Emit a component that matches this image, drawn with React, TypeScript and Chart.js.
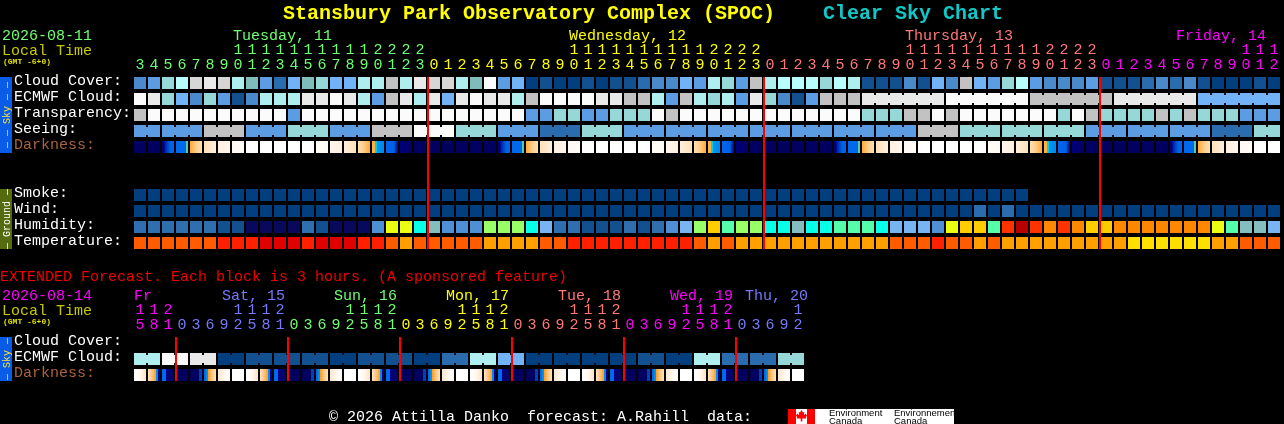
import React, { useEffect, useRef } from "react";
import { Chart, registerables } from "chart.js";

Chart.register(...registerables);

// ---------- values ----------
const title = "Stansbury Park Observatory Complex (SPOC)";
const subtitle = "Clear Sky Chart";

const mainRowLabels = ["Cloud Cover:", "ECMWF Cloud:", "Transparency:", "Seeing:", "Darkness:", "", "", "Smoke:", "Wind:", "Humidity:", "Temperature:"];
const extendedRowLabels = ["Cloud Cover:", "ECMWF Cloud:", "Darkness:"];

const mainHours = [3,4,5,6,7,8,9,10,11,12,13,14,15,16,17,18,19,20,21,22,23,
  0,1,2,3,4,5,6,7,8,9,10,11,12,13,14,15,16,17,18,19,20,21,22,23,
  0,1,2,3,4,5,6,7,8,9,10,11,12,13,14,15,16,17,18,19,20,21,22,23,
  0,1,2,3,4,5,6,7,8,9,10,11,12];
const mainDaySpans = [21, 24, 24, 13];
const extendedHours = [15,18,21,
  0,3,6,9,12,15,18,21, 0,3,6,9,12,15,18,21, 0,3,6,9,12,15,18,21, 0,3,6,9,12,15,18,21, 0,3,6,9,12,15,18,21,
  0,3,6,9,12];
const extendedDaySpans = [3, 8, 8, 8, 8, 8, 5];
const mainMidnights = [21, 45, 69];
const extendedMidnights = [3, 11, 19, 27, 35, 43];

// Sky codes: 0 darkest/clear ... 13 white
const cloudCover = [3,4,7,9,11,12,11,8,6,4,2,5,6,7,5,5,8,8,10,8,12,
  11,11,8,6,13,4,5,0,1,0,0,1,0,1,1,2,3,3,5,4,8,7,4,10,8,9,9,9,7,9,
  8,1,1,1,3,1,5,3,10,5,4,7,9,4,3,3,3,4,1,1,1,2,3,2,3,1,0,0,0,1,0];
const ecmwfCloud = [13,12,7,5,3,7,4,1,3,8,8,8,12,12,13,12,8,4,10,12,8,
  12,5,12,13,12,12,8,10,13,13,13,13,12,12,10,10,8,4,10,8,7,8,4,12,7,3,1,4,10,10,
  10,12,12,12,12,12,12,13,13,13,13,13,13,10,10,10,10,10,10,12,12,12,12,12,12,5,5,5,5,5,5];
const ecmwfBlocks = [1,1,1,1,1,1,1,1,1,1,1,1,1,1,1,1,1,1,1,1,1,1,1,1,1,1,1,1,1,1,1,1,1,1,1,1,1,1,1,1,1,1,1,1,1,1,1,1,1,1,1,1,6,6,6,6,6];
const transparency = [10,13,13,13,13,13,13,13,13,13,13,4,13,13,13,13,13,13,13,13,13,
  13,13,13,13,13,13,13,4,4,7,7,4,4,7,7,7,13,10,13,13,13,13,13,13,13,13,13,13,13,13,
  13,7,7,7,10,10,13,10,13,13,13,13,13,13,13,7,13,10,7,7,7,7,10,7,10,7,7,7,4,4,4];
const seeing = [4,4,4,4,4,10,10,10,4,4,4,7,7,7,4,4,4,10,10,10,13,
  13,13,7,7,7,4,4,4,2,2,2,7,7,7,4,4,4,4,4,4,4,4,4,4,4,4,4,4,4,4,
  4,4,4,4,4,10,10,10,7,7,7,7,7,7,7,7,7,4,4,4,4,4,4,4,4,4,2,2,2,7,7];
const seeingBlocks = [2,3,3,3,3,3,3,3,3,3,3,3,3,3,3,3,3,3,3,3,3,3,3,3,3,3,3,2];
const darkness = [0,0,1,2,3,4,5,6,7,7,7,7,7,8,9,10,11,12,13,14,0,
  0,0,0,0,0,1,2,3,4,5,6,7,7,7,7,7,8,9,10,11,12,13,14,0,0,0,0,0,0,1,
  2,3,4,5,6,7,7,7,7,7,8,9,10,11,12,13,14,0,0,0,0,0,0,1,2,3,4,5,6,7,7];
const smoke = [0,0,0,0,0,0,0,0,0,0,0,0,0,0,0,0,0,0,0,0,0,0,0,0,0,0,0,0,0,0,0,0,0,0,0,0,0,0,0,0,0,0,0,0,0,0,0,0,0,0,0,0,0,0,0,0,0,0,0,0,0,0,0,0];
const wind = [0,0,0,0,0,0,0,0,0,0,0,0,0,0,0,0,0,0,0,0,0,0,0,0,0,0,0,0,0,0,0,0,0,0,0,0,0,0,0,0,0,0,0,0,0,0,0,0,0,0,0,0,0,0,0,0,0,0,0,0,2,0,2,0,0,0,0,0,0,0,0,0,0,0,0,0,0,0,0,0,0,0];
const humidity = [2,2,2,2,2,2,1,1,0,0,0,0,2,1,0,0,0,3,9,9,8,
  5,3,3,3,6,6,6,8,4,2,2,1,1,1,2,1,2,3,4,6,10,7,6,6,8,8,5,8,8,7,
  7,7,8,4,4,4,3,9,10,10,7,12,13,12,11,12,11,10,10,11,11,11,11,11,11,11,9,7,5,5,4];
const temperature = [2,2,2,2,2,2,1,1,1,0,0,0,1,0,0,0,1,1,2,3,2,
  2,2,2,2,3,3,3,3,2,2,1,1,1,1,1,1,1,1,1,2,3,2,3,3,3,3,3,3,3,3,
  3,3,3,2,2,2,1,2,2,3,2,3,3,3,3,3,3,3,3,3,4,4,4,4,4,4,3,3,2,2,2];

const extendedEcmwf = [8,8,13,13,12,12,0,0,1,1,1,1,1,1,0,0,1,1,1,1,0,0,2,2,8,8,5,5,0,0,0,0,0,0,0,0,1,1,0,0,8,8,2,2,2,2,7,7];
const extendedEcmwfBlocks = [2,2,2,2,2,2,2,2,2,2,2,2,2,2,2,2,2,2,2,2,2,2,2,2];
const extendedDarkness = [15,16,17,0,18,19,20,7,15,16,17,0,18,19,20,7,15,16,17,0,18,19,20,7,15,16,17,0,18,19,20,7,15,16,17,0,18,19,20,7,15,16,17,0,18,19,20,7];

const footer = "\u00A9 2026 Attilla Danko  forecast: A.Rahill  data:";
const extendedNote = "EXTENDED Forecast. Each block is 3 hours. (A sponsored feature)";

// ---------- palettes and styling ----------
const SKY = ["#033F7F","#13508F","#2B6CAE","#4A8ACB","#5C9CE2","#72B2F6","#7FBDBD","#96D8D8","#AEEEEE","#B8FCFC","#C2C2C2","#D6D6D6","#E9E9E9","#FBFBFB"];
const HUMIDITY = ["#08085C","#13508F","#2F6FAF","#4F8FD5","#78B4F2","#85BEBE","#99FF66","#55FFAA","#08FFE8","#EAFF11","#FFCC00","#FF8800","#FF3300","#B80000"];
const TEMPERATURE = ["#E00000","#FF2000","#FF5C00","#FFA000","#FFE000"];
type Stop = [number, string];
const DARK: Stop[][] = [
  [[0,"#000060"],[1,"#000060"]],
  [[0,"#000070"],[0.17,"#000090"],[0.33,"#0030B0"],[0.5,"#0048C8"],[0.67,"#0060E4"],[1,"#0068EE"]],
  [[0,"#0068EE"],[0.83,"#0068EE"],[0.84,"#50D0A0"],[1,"#50D0A0"]],
  [[0,"#FFA838"],[0.5,"#FFCC88"],[1,"#FFE0B4"]],
  [[0,"#FFE2BC"],[1,"#FFEEDA"]],
  [[0,"#FFF0DE"],[1,"#FFF6EC"]],
  [[0,"#FFF8F0"],[1,"#FFFCF8"]],
  [[0,"#FFFFFF"],[1,"#FFFFFF"]],
  [[0,"#FFFDFA"],[1,"#FFF8F0"]],
  [[0,"#FFF6EC"],[1,"#FFF0DE"]],
  [[0,"#FFEEDA"],[1,"#FFE2BC"]],
  [[0,"#FFE0B4"],[0.5,"#FFCC88"],[1,"#FFA838"]],
  [[0,"#FFB040"],[0.24,"#FFB040"],[0.25,"#00D0E8"],[0.42,"#00D0E8"],[0.43,"#0090F0"],[1,"#0088EE"]],
  [[0,"#0068EE"],[0.66,"#0060E4"],[0.83,"#0030B0"],[1,"#000090"]],
  [[0,"#000080"],[1,"#000060"]],
  [[0,"#FFFFFF"],[0.5,"#FFF8F0"],[1,"#FFE4C4"]],
  [[0,"#FFE4C4"],[0.4,"#FFC070"],[0.66,"#FF9920"],[0.67,"#0088EE"],[0.83,"#0088EE"],[0.84,"#000090"],[1,"#000070"]],
  [[0,"#0068EE"],[0.33,"#0068EE"],[0.34,"#000080"],[1,"#000060"]],
  [[0,"#000060"],[0.74,"#000060"],[0.75,"#0040C0"],[1,"#0040C0"]],
  [[0,"#0068EE"],[0.16,"#0068EE"],[0.17,"#0090F0"],[0.33,"#0090F0"],[0.34,"#FF9920"],[0.6,"#FFC070"],[1,"#FFE4C4"]],
  [[0,"#FFE4C4"],[0.5,"#FFF8F0"],[1,"#FFFFFF"]],
];
const HEADER_COLORS = ["#70FF70", "#FFFF00", "#FF7878", "#FF00FF"];
const EXT_COLORS = ["#FF00FF", "#7878FF", "#70FF70", "#FFFF00", "#FF7878", "#FF00FF", "#7878FF"];
const MONO = '"Liberation Mono", monospace';
const F15 = `15px ${MONO}`;
const WIDTH = 1284;
const CELL = 14;            // px per column
const ROW = 16;             // px per row
const ROW_SPAN = 12 / ROW;  // a block's height in row units
const LABEL_LIFT = 1.5 / ROW;
const PLOT_LEFT = 133;      // x of value 0
const LINE_SHIFT = 1 / CELL;

type Txt = { t: string; x: number; y: number; c: string; f?: string };

const topTexts: Txt[] = [
  { t: title, x: 283, y: 19, c: "#FFFF00", f: `bold 20px ${MONO}` },
  { t: subtitle, x: 823, y: 19, c: "#10C8C8", f: `bold 20px ${MONO}` },
  { t: "2026-08-11", x: 2, y: 40, c: "#70FF70" },
  { t: "Local Time", x: 2, y: 55, c: "#C8C800" },
  { t: "(GMT -6+0)", x: 3, y: 64, c: "#E0E000", f: `bold 8px ${MONO}` },
  { t: "Tuesday, 11", x: 233, y: 40, c: HEADER_COLORS[0] },
  { t: "Wednesday, 12", x: 569, y: 40, c: HEADER_COLORS[1] },
  { t: "Thursday, 13", x: 905, y: 40, c: HEADER_COLORS[2] },
  { t: "Friday, 14", x: 1176, y: 40, c: HEADER_COLORS[3] },
];
const bottomTexts: Txt[] = [
  { t: extendedNote, x: 0, y: 281, c: "#F00000" },
  { t: "2026-08-14", x: 2, y: 300, c: "#FF00FF" },
  { t: "Local Time", x: 2, y: 315, c: "#C8C800" },
  { t: "(GMT -6+0)", x: 3, y: 324, c: "#E0E000", f: `bold 8px ${MONO}` },
  { t: "Fr", x: 134, y: 300, c: EXT_COLORS[0] },
  { t: "Sat, 15", x: 222, y: 300, c: EXT_COLORS[1] },
  { t: "Sun, 16", x: 334, y: 300, c: EXT_COLORS[2] },
  { t: "Mon, 17", x: 446, y: 300, c: EXT_COLORS[3] },
  { t: "Tue, 18", x: 558, y: 300, c: EXT_COLORS[4] },
  { t: "Wed, 19", x: 670, y: 300, c: EXT_COLORS[5] },
  { t: "Thu, 20", x: 745, y: 300, c: EXT_COLORS[6] },
  { t: footer, x: 329, y: 421, c: "#FFFFFF" },
];
const topTabs = [
  { label: "\u2014 \u2014 Sky \u2014 \u2014", top: 77, bottom: 153, bg: "#0A5CE8", fg: "#FFE830" },
  { label: "\u2014 Ground \u2014", top: 189, bottom: 249, bg: "#556B0F", fg: "#FFFFFF" },
];
const bottomTabs = [{ label: "\u2014 Sky \u2014", top: 337, bottom: 381, bg: "#0A5CE8", fg: "#FFE830" }];

// ---------- helpers ----------
function dayOf(index: number, spans: number[]) {
  let n = 0;
  for (let d = 0; d < spans.length; d++) {
    n += spans[d];
    if (index < n) return d;
  }
  return spans.length - 1;
}

const cells = (row: number, values: number[]) =>
  values.map((_, i) => ({ x: i + 0.5, y: [row, row + ROW_SPAN] }));

function blockRow(row: number, values: number[], palette: string[]) {
  return {
    type: "bar",
    data: cells(row, values),
    backgroundColor: values.map((v) => palette[v]),
    maxBarThickness: 12,
  };
}

function darkRow(row: number, values: number[]) {
  return {
    type: "bar",
    data: cells(row, values),
    maxBarThickness: 12,
    backgroundColor: (ctx: any) => {
      const stops = DARK[values[ctx.dataIndex]];
      const sx = ctx.chart.scales.x;
      if (!sx || !stops) return "#000";
      const c = sx.getPixelForValue(ctx.dataIndex + 0.5);
      if (!Number.isFinite(c)) return "#000";
      const g = ctx.chart.ctx.createLinearGradient(c - 6, 0, c + 6, 0);
      stops.forEach(([o, col]: Stop) => g.addColorStop(o, col));
      return g;
    },
  };
}

// small bridges that join the blocks of one forecast period
function bridges(row: number, values: number[], blocks: number[], palette: string[]) {
  const data: any[] = [];
  const colors: string[] = [];
  let start = 0;
  blocks.forEach((n) => {
    for (let k = 0; k < n - 1; k++) {
      const i = start + k;
      data.push({ x: i + 1, y: [row + 2 / ROW, row + 10 / ROW] });
      colors.push(palette[values[i]]);
    }
    start += n;
  });
  return { type: "bar", data, backgroundColor: colors, maxBarThickness: 2 };
}

function redLines(midnights: number[], last: number) {
  return {
    type: "bar",
    order: -1,
    data: midnights.map((m) => ({ x: m + LINE_SHIFT, y: [0, last + ROW_SPAN] })),
    backgroundColor: "#FF0000",
    maxBarThickness: 2,
  };
}

function leaf(g: CanvasRenderingContext2D, cx: number, cy: number) {
  const pts = [[0,-6],[1.5,-3.5],[2.8,-4.2],[2.4,-1],[4.4,-2.6],[4.8,-1.2],[5.6,-0.8],[4.4,1.2],[4.8,2.4],[0.8,2.4],[0.8,5.5],[-0.8,5.5],[-0.8,2.4],[-4.8,2.4],[-4.4,1.2],[-5.6,-0.8],[-4.8,-1.2],[-4.4,-2.6],[-2.4,-1],[-2.8,-4.2],[-1.5,-3.5]];
  g.beginPath();
  pts.forEach(([x, y], i) => (i ? g.lineTo(cx + x, cy + y) : g.moveTo(cx + x, cy + y)));
  g.closePath();
  g.fill();
}

function decorations(name: string, offset: number, texts: Txt[], tabs: typeof topTabs, logo: boolean) {
  return {
    id: name,
    afterDraw(chart: any) {
      const g: CanvasRenderingContext2D = chart.ctx;
      g.save();
      g.textBaseline = "alphabetic";
      g.textAlign = "left";
      texts.forEach((s) => {
        g.font = s.f || F15;
        g.fillStyle = s.c;
        g.fillText(s.t, s.x, s.y - offset);
      });
      tabs.forEach((b) => {
        g.fillStyle = b.bg;
        g.fillRect(0, b.top - offset, 12, b.bottom - b.top);
        g.save();
        g.translate(9.5, (b.top + b.bottom) / 2 - offset);
        g.rotate(-Math.PI / 2);
        g.font = `10px ${MONO}`;
        g.textAlign = "center";
        g.fillStyle = b.fg;
        g.fillText(b.label, 0, 0);
        g.restore();
      });
      if (logo) {
        const top = 409 - offset;
        g.fillStyle = "#FFFFFF";
        g.fillRect(796, top, 158, 15);
        g.fillStyle = "#FF0000";
        g.fillRect(788, top, 8, 15);
        g.fillRect(807, top, 8, 15);
        leaf(g, 801.5, top + 7);
        g.fillStyle = "#000000";
        g.font = '9.5px "Liberation Sans", sans-serif';
        g.fillText("Environment", 829, top + 7);
        g.fillText("Canada", 829, top + 14.5);
        g.fillText("Environnement", 894, top + 7);
        g.fillText("Canada", 894, top + 14.5);
      }
      g.restore();
    },
  };
}

function buildOptions(opts: {
  hours: number[]; spans: number[]; colors: string[]; labels: string[];
  plotTop: number; rows: number; height: number; tickPad: number; lineHeight: number;
}) {
  const { hours, spans, colors, labels, plotTop, rows, height, tickPad, lineHeight } = opts;
  return {
    responsive: false,
    animation: false as const,
    devicePixelRatio: 1,
    events: [] as any[],
    layout: { padding: { left: 14, right: WIDTH - (PLOT_LEFT + 82 * CELL), top: 0, bottom: height - plotTop - rows * ROW } },
    plugins: { legend: { display: false }, title: { display: false }, tooltip: { enabled: false } },
    datasets: { bar: { grouped: false, categoryPercentage: 100, barPercentage: 1, borderWidth: 0 } },
    scales: {
      x: {
        type: "linear" as const,
        position: "top" as const,
        min: 0,
        max: 82,
        offset: false,
        grid: { display: false },
        border: { display: false },
        afterBuildTicks: (s: any) => { s.ticks = hours.map((_, i) => ({ value: i + 0.5 })); },
        afterFit: (s: any) => { s.height = plotTop; },
        ticks: {
          autoSkip: false,
          maxRotation: 0,
          minRotation: 0,
          padding: tickPad,
          font: { family: MONO, size: 15, lineHeight: `${lineHeight}px` },
          color: (c: any) => colors[dayOf(c.index, spans)],
          callback: (_v: any, i: number) => {
            const h = hours[i];
            return h >= 10 ? [String(Math.floor(h / 10)), String(h % 10)] : ["", String(h)];
          },
        },
      },
      y: {
        type: "linear" as const,
        reverse: true,
        min: 0,
        max: rows,
        grid: { display: false },
        border: { display: false },
        afterBuildTicks: (s: any) => { s.ticks = labels.map((_, i) => ({ value: i + ROW_SPAN / 2 - LABEL_LIFT })); },
        afterFit: (s: any) => { s.width = PLOT_LEFT - 14; },
        ticks: {
          autoSkip: false,
          crossAlign: "far" as const,
          padding: 0,
          font: { family: MONO, size: 15 },
          color: (c: any) => (labels[c.index] === "Darkness:" ? "#A9643C" : "#FFFFFF"),
          callback: (_v: any, i: number) => labels[i],
        },
      },
    },
  };
}

export default function App() {
  const topRef = useRef<HTMLCanvasElement>(null);
  const bottomRef = useRef<HTMLCanvasElement>(null);

  useEffect(() => {
    const top = new Chart(topRef.current as HTMLCanvasElement, {
      type: "bar",
      data: {
        datasets: [
          redLines(mainMidnights, 10),
          bridges(1, ecmwfCloud, ecmwfBlocks, SKY),
          bridges(3, seeing, seeingBlocks, SKY),
          blockRow(0, cloudCover, SKY),
          blockRow(1, ecmwfCloud, SKY),
          blockRow(2, transparency, SKY),
          blockRow(3, seeing, SKY),
          darkRow(4, darkness),
          blockRow(7, smoke, SKY),
          blockRow(8, wind, SKY),
          blockRow(9, humidity, HUMIDITY),
          blockRow(10, temperature, TEMPERATURE),
        ] as any,
      },
      options: buildOptions({
        hours: mainHours, spans: mainDaySpans, colors: HEADER_COLORS, labels: mainRowLabels,
        plotTop: 77, rows: 11, height: 264, tickPad: -4, lineHeight: 15,
      }) as any,
      plugins: [decorations("topText", 0, topTexts, topTabs, false)],
    });
    const bottom = new Chart(bottomRef.current as HTMLCanvasElement, {
      type: "bar",
      data: {
        datasets: [
          redLines(extendedMidnights, 2),
          bridges(1, extendedEcmwf, extendedEcmwfBlocks, SKY),
          blockRow(1, extendedEcmwf, SKY),
          darkRow(2, extendedDarkness),
        ] as any,
      },
      options: buildOptions({
        hours: extendedHours, spans: extendedDaySpans, colors: EXT_COLORS, labels: extendedRowLabels,
        plotTop: 73, rows: 3, height: 160, tickPad: -4, lineHeight: 15,
      }) as any,
      plugins: [decorations("bottomText", 264, bottomTexts, bottomTabs, true)],
    });
    return () => {
      top.destroy();
      bottom.destroy();
    };
  }, []);

  return (
    <div style={{ position: "fixed", left: 0, top: 0, width: WIDTH, height: 424, background: "#000", overflow: "hidden" }}>
      <canvas ref={topRef} width={WIDTH} height={264} style={{ position: "absolute", left: 0, top: 0, width: WIDTH, height: 264 }} />
      <canvas ref={bottomRef} width={WIDTH} height={160} style={{ position: "absolute", left: 0, top: 264, width: WIDTH, height: 160 }} />
    </div>
  );
}
